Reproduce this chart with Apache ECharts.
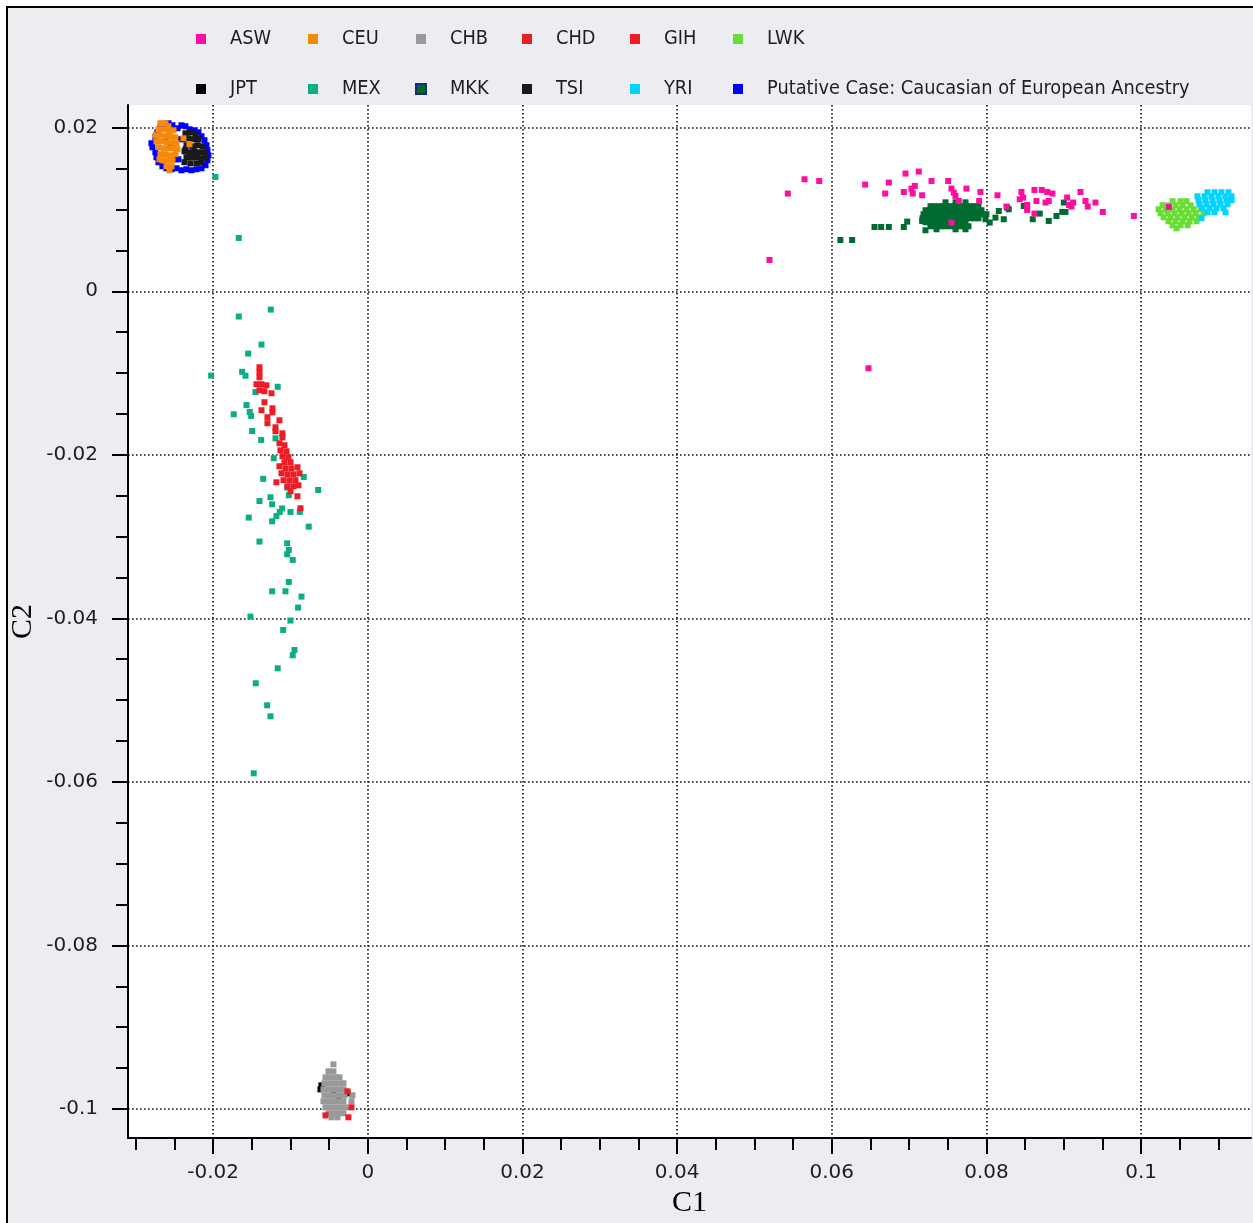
<!DOCTYPE html>
<html>
<head>
<meta charset="utf-8">
<script src="https://cdn.jsdelivr.net/npm/echarts@6/dist/echarts.min.js"></script>
<style>
html, body { margin: 0; padding: 0; background: #ffffff; }
#frame {
  position: absolute; left: 6px; top: 6px; width: 1247px; height: 1217px;
  box-sizing: border-box; border-left: 2px solid #000; border-top: 2px solid #000;
  background: #ecedf1;
}
#chart { position: absolute; left: 0; top: 0; width: 1253px; height: 1223px; }
</style>
</head>
<body>
<div id="frame"></div>
<div id="chart"></div>
<script>
// Population structure plot: first two components (C1, C2) per HapMap population.

const xMajorTicks = [-0.02, 0, 0.02, 0.04, 0.06, 0.08, 0.1];
const xMinorTicks = [-0.03, -0.025, -0.015, -0.01, -0.005, 0.005, 0.01, 0.015, 0.025, 0.03, 0.035,
  0.045, 0.05, 0.055, 0.065, 0.07, 0.075, 0.085, 0.09, 0.095, 0.105, 0.11];
const yMajorTicks = [-0.1, -0.08, -0.06, -0.04, -0.02, 0, 0.02];
const yMinorTicks = [-0.095, -0.09, -0.085, -0.075, -0.07, -0.065, -0.055, -0.05, -0.045, -0.035,
  -0.03, -0.025, -0.015, -0.01, -0.005, 0.005, 0.01, 0.015];

const putativeCase = [
  [-0.02797, 0.0181], [-0.02784, 0.01761], [-0.02746, 0.01883], [-0.0272, 0.01945], [-0.02681, 0.02006],
  [-0.02629, 0.02042], [-0.02577, 0.02055], [-0.02525, 0.0203], [-0.0246, 0.01993], [-0.02409, 0.0203],
  [-0.02357, 0.02018], [-0.02305, 0.01981], [-0.0224, 0.01969], [-0.02189, 0.01945], [-0.0215, 0.01896],
  [-0.02111, 0.01847], [-0.02086, 0.01786], [-0.02073, 0.01724], [-0.0206, 0.01663], [-0.02073, 0.01602],
  [-0.02098, 0.01541], [-0.0215, 0.01504], [-0.02215, 0.01492], [-0.0228, 0.0148], [-0.02344, 0.01492],
  [-0.02409, 0.0148], [-0.02473, 0.01504], [-0.02538, 0.01492], [-0.02603, 0.01504], [-0.02655, 0.01529],
  [-0.02706, 0.01578], [-0.02732, 0.01639], [-0.02746, 0.017], [-0.02552, 0.01798], [-0.02357, 0.01737],
  [-0.02228, 0.01676], [-0.02486, 0.01614], [-0.02616, 0.01859], [-0.02422, 0.01859], [-0.02448, 0.01614]
];

const tsi = [
  [-0.02357, 0.01932], [-0.02293, 0.01945], [-0.02228, 0.0192], [-0.02383, 0.01859], [-0.02318, 0.01871],
  [-0.02254, 0.01859], [-0.02189, 0.01859], [-0.02344, 0.01786], [-0.02267, 0.01773], [-0.02202, 0.01786],
  [-0.02137, 0.01773], [-0.0237, 0.01712], [-0.02305, 0.017], [-0.02241, 0.01712], [-0.02176, 0.017],
  [-0.02111, 0.017], [-0.02344, 0.01639], [-0.0228, 0.01639], [-0.02215, 0.01639], [-0.0215, 0.01627],
  [-0.02098, 0.01639], [-0.0237, 0.01578], [-0.02293, 0.01565], [-0.02215, 0.01565], [-0.0215, 0.01578]
];

const ceu = [
  [-0.02681, 0.02055], [-0.02616, 0.02055], [-0.02577, 0.02018], [-0.02706, 0.01981], [-0.02642, 0.01981],
  [-0.02577, 0.01957], [-0.02512, 0.01969], [-0.02746, 0.01908], [-0.02681, 0.01908], [-0.02616, 0.01896],
  [-0.02552, 0.01896], [-0.02486, 0.01883], [-0.02732, 0.01835], [-0.02668, 0.01835], [-0.02603, 0.01822],
  [-0.02538, 0.01822], [-0.02473, 0.0181], [-0.02706, 0.01761], [-0.02642, 0.01749], [-0.02577, 0.01749],
  [-0.02512, 0.01749], [-0.0246, 0.01737], [-0.02681, 0.01676], [-0.02616, 0.01676], [-0.02552, 0.01663],
  [-0.02486, 0.01676], [-0.02693, 0.01614], [-0.02655, 0.01602], [-0.0259, 0.01602], [-0.02525, 0.01602],
  [-0.02603, 0.01529], [-0.02538, 0.01529], [-0.02564, 0.0148], [-0.02383, 0.01871], [-0.02305, 0.01798]
];

const jpt = [
  [-0.00612, -0.0976], [-0.00599, -0.09711], [-0.00262, -0.09809], [-0.00444, -0.09821], [-0.00379, -0.09882]
];

const chb = [
  [-0.00444, -0.09454],
  [-0.00508, -0.0954], [-0.00444, -0.0954],
  [-0.00547, -0.09613], [-0.00482, -0.09613], [-0.00418, -0.09613], [-0.00366, -0.09613],
  [-0.0056, -0.09686], [-0.00495, -0.09686], [-0.00431, -0.09686], [-0.00366, -0.09686], [-0.00314, -0.09686],
  [-0.00573, -0.0976], [-0.00508, -0.0976], [-0.00444, -0.0976], [-0.00379, -0.0976], [-0.00314, -0.0976],
  [-0.0056, -0.09833], [-0.00495, -0.09833], [-0.00431, -0.09833], [-0.00366, -0.09833], [-0.00301, -0.09833], [-0.00198, -0.09833],
  [-0.00573, -0.09906], [-0.00508, -0.09906], [-0.00444, -0.09906], [-0.00379, -0.09906], [-0.00314, -0.09906], [-0.00211, -0.09906],
  [-0.00547, -0.0998], [-0.00482, -0.0998], [-0.00418, -0.0998], [-0.00353, -0.0998], [-0.00288, -0.0998],
  [-0.00508, -0.10053], [-0.00444, -0.10053], [-0.00379, -0.10053], [-0.00314, -0.10053],
  [-0.00469, -0.10102], [-0.00392, -0.10102]
];

const chd = [
  [-0.00211, -0.0998], [-0.0025, -0.10102], [-0.00547, -0.10078], [-0.00262, -0.09784]
];

const mex = [
  [-0.0197, 0.01398], [-0.01668, 0.00652], [-0.01254, -0.00224], [-0.01668, -0.00309], [-0.01374, -0.00652],
  [-0.01546, -0.00762], [-0.01624, -0.00985], [-0.01581, -0.01033], [-0.02025, -0.01031], [-0.01164, -0.01168],
  [-0.01452, -0.01232], [-0.01568, -0.01392], [-0.01733, -0.01504], [-0.01526, -0.01476], [-0.01508, -0.01525],
  [-0.01495, -0.01709], [-0.01378, -0.01819], [-0.01193, -0.01798], [-0.01215, -0.02042], [-0.01352, -0.02294],
  [-0.00828, -0.02271], [-0.00641, -0.0243], [-0.01042, -0.02401], [-0.01021, -0.02495], [-0.01258, -0.02519],
  [-0.01236, -0.02605], [-0.014, -0.02565], [-0.01107, -0.02656], [-0.01138, -0.02699], [-0.01181, -0.02748],
  [-0.00999, -0.02699], [-0.00879, -0.02699], [-0.01236, -0.02813], [-0.01539, -0.02768], [-0.00763, -0.02878],
  [-0.014, -0.03061], [-0.01042, -0.03082], [-0.01021, -0.03164], [-0.01042, -0.03216], [-0.0097, -0.03286],
  [-0.01021, -0.03555], [-0.01236, -0.03669], [-0.01064, -0.03669], [-0.00857, -0.03734], [-0.009, -0.03868],
  [-0.01517, -0.03978], [-0.01, -0.04027], [-0.01094, -0.04142], [-0.00948, -0.04387], [-0.0097, -0.04452],
  [-0.01164, -0.04611], [-0.01448, -0.04794], [-0.01301, -0.05063], [-0.01258, -0.05198], [-0.01474, -0.05895]
];

const gih = [
  [-0.014, -0.00929], [-0.014, -0.00991], [-0.014, -0.01052], [-0.01439, -0.01137], [-0.01374, -0.01137],
  [-0.0131, -0.0115], [-0.014, -0.01211], [-0.01336, -0.01223], [-0.01245, -0.01248], [-0.01336, -0.01357],
  [-0.01374, -0.01455], [-0.01232, -0.01431], [-0.01232, -0.0148], [-0.01297, -0.01541], [-0.01297, -0.01614],
  [-0.01142, -0.01578], [-0.01193, -0.01663], [-0.01193, -0.01712], [-0.01103, -0.01737], [-0.01103, -0.01786],
  [-0.01142, -0.01859], [-0.01077, -0.01883], [-0.01129, -0.01945], [-0.01051, -0.01957], [-0.01103, -0.02018],
  [-0.01025, -0.0203], [-0.01077, -0.02091], [-0.00999, -0.02091], [-0.01142, -0.0214], [-0.01064, -0.02165],
  [-0.00987, -0.02165], [-0.00909, -0.02152], [-0.01116, -0.02226], [-0.01038, -0.02238], [-0.00961, -0.02238],
  [-0.00883, -0.02226], [-0.0109, -0.02311], [-0.01012, -0.02311], [-0.00935, -0.02311], [-0.01038, -0.02385],
  [-0.00961, -0.02385], [-0.00896, -0.02373], [-0.00999, -0.02446], [-0.00909, -0.02507], [-0.0087, -0.02654],
  [-0.01181, -0.02336]
];

const mkk = [
  [0.0747, 0.01088], [0.076, 0.01088], [0.07729, 0.01088],
  [0.07276, 0.0104], [0.0738, 0.0104], [0.07483, 0.0104], [0.07587, 0.0104], [0.0769, 0.0104], [0.07793, 0.0104], [0.07896, 0.0104],
  [0.07328, 0.0104], [0.07432, 0.0104], [0.07535, 0.0104], [0.07638, 0.0104], [0.07742, 0.0104], [0.07845, 0.0104],
  [0.07212, 0.00991], [0.07315, 0.00991], [0.07419, 0.00991], [0.07522, 0.00991], [0.07625, 0.00991], [0.07729, 0.00991], [0.07832, 0.00991], [0.07935, 0.00991],
  [0.07264, 0.00991], [0.07367, 0.00991], [0.0747, 0.00991], [0.07574, 0.00991], [0.07677, 0.00991], [0.0778, 0.00991], [0.07884, 0.00991],
  [0.07186, 0.00942], [0.07289, 0.00942], [0.07393, 0.00942], [0.07496, 0.00942], [0.076, 0.00942], [0.07703, 0.00942], [0.07806, 0.00942], [0.07909, 0.00942], [0.07999, 0.00942],
  [0.07238, 0.00942], [0.07341, 0.00942], [0.07445, 0.00942], [0.07548, 0.00942], [0.07652, 0.00942], [0.07755, 0.00942], [0.07858, 0.00942], [0.07954, 0.00942],
  [0.07173, 0.00893], [0.07276, 0.00893], [0.0738, 0.00893], [0.07483, 0.00893], [0.07587, 0.00893], [0.0769, 0.00893], [0.07793, 0.00893], [0.07896, 0.00893],
  [0.07225, 0.00893], [0.07328, 0.00893], [0.07432, 0.00893], [0.07535, 0.00893], [0.07638, 0.00893], [0.07742, 0.00893], [0.07845, 0.00893],
  [0.07212, 0.00844], [0.07315, 0.00844], [0.07419, 0.00844], [0.07522, 0.00844], [0.07625, 0.00844], [0.07729, 0.00844],
  [0.07264, 0.00844], [0.07367, 0.00844], [0.0747, 0.00844], [0.07574, 0.00844], [0.07677, 0.00844],
  [0.07276, 0.00795], [0.07406, 0.00795], [0.07535, 0.00795], [0.07664, 0.00795], [0.07767, 0.00795],
  [0.07341, 0.00795], [0.0747, 0.00795], [0.076, 0.00795], [0.07716, 0.00795],
  [0.07354, 0.00758], [0.076, 0.00758], [0.07729, 0.00758],
  [0.06111, 0.00627], [0.06263, 0.00627], [0.06552, 0.00786], [0.06638, 0.00786], [0.06737, 0.00786],
  [0.06931, 0.00786], [0.06975, 0.00852], [0.07168, 0.0086], [0.07211, 0.00746],
  [0.07987, 0.00881], [0.08042, 0.0084], [0.08116, 0.00901], [0.08159, 0.00982], [0.08223, 0.00881],
  [0.08267, 0.01024], [0.08288, 0.01003], [0.08482, 0.01043], [0.08526, 0.01024], [0.08598, 0.00881],
  [0.08689, 0.0095], [0.08805, 0.0086], [0.08905, 0.00921], [0.08979, 0.0097], [0.09021, 0.0097], [0.09, 0.01085]
];

const lwk = [
  [0.10406, 0.01101], [0.1051, 0.01101], [0.10587, 0.01101],
  [0.10277, 0.01052], [0.10354, 0.01052], [0.10445, 0.01052], [0.10535, 0.01052], [0.10639, 0.01052],
  [0.10225, 0.01003], [0.10316, 0.01003], [0.10406, 0.01003], [0.10497, 0.01003], [0.10587, 0.01003], [0.10678, 0.01003], [0.10768, 0.01003],
  [0.10251, 0.00954], [0.10341, 0.00954], [0.10432, 0.00954], [0.10523, 0.00954], [0.10613, 0.00954], [0.10703, 0.00954], [0.10807, 0.00954],
  [0.1029, 0.00905], [0.1038, 0.00905], [0.10471, 0.00905], [0.10561, 0.00905], [0.10652, 0.00905], [0.10742, 0.00905],
  [0.10354, 0.00856], [0.10445, 0.00856], [0.10535, 0.00856], [0.10626, 0.00856], [0.10716, 0.00856],
  [0.10406, 0.00807], [0.1051, 0.00807], [0.106, 0.00807],
  [0.10458, 0.0077]
];

const yri = [
  [0.10857, 0.01211], [0.10948, 0.01211], [0.11038, 0.01211], [0.11129, 0.01211],
  [0.10728, 0.01162], [0.10819, 0.01162], [0.10909, 0.01162], [0.11, 0.01162], [0.1109, 0.01162], [0.11168, 0.01162],
  [0.10741, 0.01113], [0.10831, 0.01113], [0.10922, 0.01113], [0.11013, 0.01113], [0.11103, 0.01113], [0.11168, 0.01113],
  [0.10754, 0.01064], [0.10844, 0.01064], [0.10935, 0.01064], [0.11026, 0.01064], [0.11116, 0.01064],
  [0.10793, 0.01015], [0.10883, 0.01015], [0.10974, 0.01015], [0.11064, 0.01015],
  [0.10857, 0.00966], [0.10948, 0.00966], [0.1109, 0.00966],
  [0.1078, 0.00893]
];

const asw = [
  [0.05194, 0.00383], [0.05431, 0.01195], [0.05647, 0.0137], [0.05837, 0.01349], [0.06431, 0.01305],
  [0.0669, 0.01195], [0.06737, 0.01329], [0.06953, 0.0144], [0.07124, 0.01464], [0.06931, 0.01214],
  [0.07047, 0.01195], [0.0703, 0.01256], [0.07073, 0.01288], [0.07168, 0.01174], [0.07289, 0.01349],
  [0.07505, 0.01349], [0.07547, 0.01256], [0.07577, 0.01207], [0.07599, 0.01166], [0.07642, 0.01104],
  [0.07741, 0.01256], [0.07922, 0.01214], [0.07905, 0.01104], [0.07547, 0.0084], [0.08142, 0.01174],
  [0.08258, 0.01036], [0.08452, 0.01214], [0.08474, 0.01146], [0.0843, 0.01125], [0.08526, 0.01055],
  [0.08526, 0.00994], [0.0862, 0.01239], [0.08646, 0.01104], [0.08715, 0.01239], [0.08785, 0.01214],
  [0.08853, 0.01195], [0.08763, 0.01085], [0.08805, 0.01104], [0.0862, 0.0095], [0.09043, 0.01146],
  [0.09069, 0.01055], [0.09099, 0.01036], [0.09121, 0.01085], [0.09215, 0.01214], [0.0928, 0.01104],
  [0.09309, 0.01036], [0.09409, 0.01085], [0.09504, 0.0097], [0.09905, 0.00921], [0.10357, 0.01031],
  [0.06474, -0.00942]
];

const PUTATIVE = 'Putative Case: Caucasian of European Ancestry';

const colors = {
  ASW: '#ff0ca0', CEU: '#f5890a', CHB: '#999999', CHD: '#ee1c25', GIH: '#ee1c25', LWK: '#68dd36',
  JPT: '#000000', MEX: '#0bae84', MKK: '#006b31', TSI: '#1a1a1a', YRI: '#00d4ff', [PUTATIVE]: '#0000ff'
};

// drawing order: later entries are painted on top
const drawOrder = [
  [PUTATIVE, putativeCase], ['TSI', tsi], ['CEU', ceu],
  ['JPT', jpt], ['CHB', chb], ['CHD', chd],
  ['MEX', mex], ['GIH', gih],
  ['MKK', mkk], ['LWK', lwk], ['YRI', yri], ['ASW', asw]
];

const legendColumns = [
  ['ASW', 'JPT'], ['CEU', 'MEX'], ['CHB', 'MKK'], ['CHD', 'TSI'], ['GIH', 'YRI'], ['LWK', PUTATIVE]
];
const legendLefts = [196, 308, 415, 522, 630, 733];

const labelFont = { fontFamily: 'DejaVu Sans', fontSize: 20, color: '#1e1e1e' };
const axisNameFont = { fontFamily: 'Liberation Serif', fontSize: 30, color: '#000' };
const gridDots = { show: true, lineStyle: { color: '#111', width: 1.6, type: [1.6, 2.4] } };
const blackLine = { color: '#000', width: 2 };

const chart = echarts.init(document.getElementById('chart'), null, { renderer: 'canvas' });

chart.setOption({
  animation: false,
  backgroundColor: 'transparent',
  grid: {
    left: 128, right: 2, top: 105, bottom: 85,
    outerBoundsMode: 'none',
    show: true, backgroundColor: '#ffffff', borderWidth: 0
  },
  legend: legendColumns.map((col, i) => ({
    orient: 'vertical',
    left: legendLefts[i],
    top: 29,
    padding: 0,
    itemGap: 30,
    itemWidth: 10,
    itemHeight: 10,
    icon: 'rect',
    selectedMode: false,
    data: col.map(n => n === 'MKK'
      ? { name: n, itemStyle: { borderColor: '#1d2a7c', borderWidth: 2 } }
      : n),
    textStyle: {
      fontFamily: "'DejaVu Sans Condensed', 'DejaVu Sans'",
      fontSize: 19.8, color: '#1e1e1e', lineHeight: 20, padding: [0, 0, 0, 19]
    }
  })),
  xAxis: [
    {
      type: 'value', position: 'bottom', min: -0.031, max: 0.1142,
      name: 'C1', nameLocation: 'middle', nameGap: 50, nameMoveOverlap: false, nameTextStyle: axisNameFont,
      axisLine: { show: true, onZero: false, lineStyle: blackLine },
      axisTick: { show: true, customValues: xMajorTicks, length: 16, lineStyle: blackLine },
      axisLabel: Object.assign({ customValues: xMajorTicks, margin: 25 }, labelFont),
      splitLine: gridDots
    },
    {
      type: 'value', position: 'bottom', min: -0.031, max: 0.1142,
      axisLine: { show: false, onZero: false },
      axisTick: { show: true, customValues: xMinorTicks, length: 12, lineStyle: blackLine },
      axisLabel: { show: false },
      splitLine: { show: false }
    }
  ],
  yAxis: [
    {
      type: 'value', position: 'left', min: -0.10355, max: 0.02278,
      name: 'C2', nameLocation: 'middle', nameGap: 90, nameMoveOverlap: false, nameTextStyle: axisNameFont,
      axisLine: { show: true, onZero: false, lineStyle: blackLine },
      axisTick: { show: true, customValues: yMajorTicks, length: 16, lineStyle: blackLine },
      axisLabel: Object.assign({ customValues: yMajorTicks, margin: 30 }, labelFont),
      splitLine: gridDots
    },
    {
      type: 'value', position: 'left', min: -0.10355, max: 0.02278,
      axisLine: { show: false, onZero: false },
      axisTick: { show: true, customValues: yMinorTicks, length: 12, lineStyle: blackLine },
      axisLabel: { show: false },
      splitLine: { show: false }
    }
  ],
  series: drawOrder.map(([name, data]) => ({
    type: 'scatter',
    name: name,
    data: data,
    xAxisIndex: 0,
    yAxisIndex: 0,
    symbol: 'rect',
    symbolSize: 6,
    itemStyle: { color: colors[name], opacity: 1 },
    emphasis: { disabled: true }
  }))
});
</script>
</body>
</html>
